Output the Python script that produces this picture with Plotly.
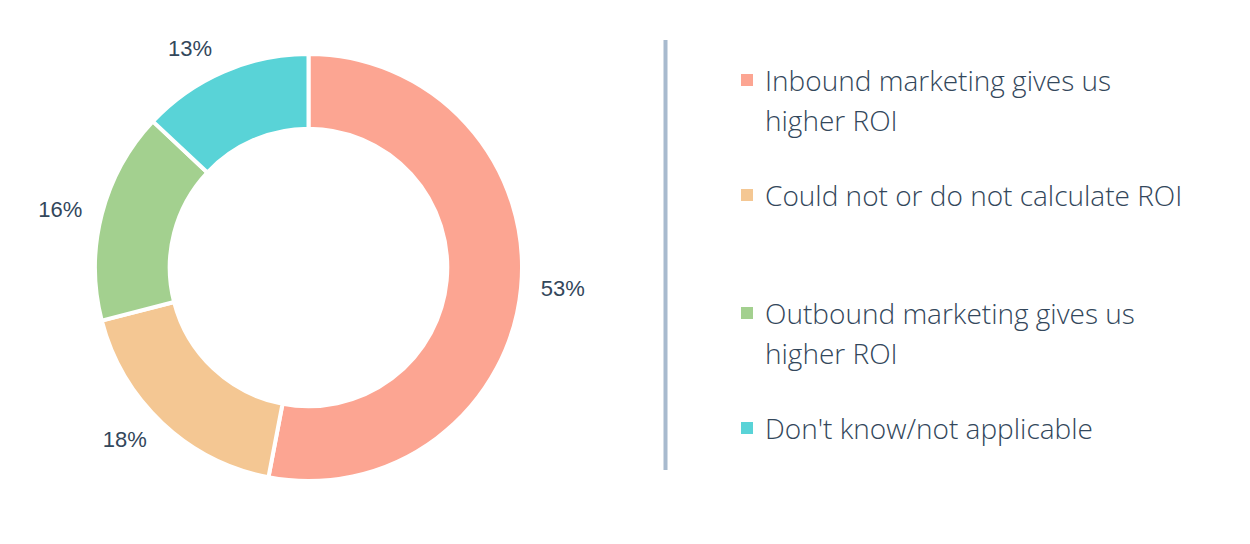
import plotly.graph_objects as go

categories = ["Inbound marketing gives us<br>higher ROI",
              "Could not or do not calculate ROI",
              "Outbound marketing gives us<br>higher ROI",
              "Don't know/not applicable"]
shares = [53, 18, 16, 13]
colors = ["#FCA592", "#F4C793", "#A3D08F", "#59D3D7"]
legend_rows = [80, 195, 313, 428]   # y (px) of each legend entry's first line

W, H = 1250, 544
OFF = 8          # page body margin pushes the plot 8px right/down
TEXT = "#33475B"


def px(x):
    return (x - OFF) / W


def py(y):
    return 1 - (y - OFF) / H


fig = go.Figure()

# the donut itself
fig.add_trace(go.Pie(
    values=shares, labels=categories, sort=False, direction="clockwise",
    hole=0.65, textinfo="none", hoverinfo="label+percent",
    marker=dict(colors=colors, line=dict(color="white", width=4)),
    domain=dict(x=[px(95), px(522)], y=[py(481), py(54)]),
    showlegend=False,
))

# transparent copy, slightly larger, only to carry the outside % labels
fig.add_trace(go.Pie(
    values=shares, labels=categories, sort=False, direction="clockwise",
    textinfo="percent", textposition="outside",
    textfont=dict(family="Liberation Sans, Arial", size=22, color=TEXT),
    marker=dict(colors=["rgba(0,0,0,0)"] * 4, line=dict(width=0)),
    hoverinfo="skip",
    domain=dict(x=[px(81.5), px(535.5)], y=[py(494), py(40)]),
    showlegend=False,
))

shapes = [dict(type="line", xref="paper", yref="paper",
               x0=px(665.5), x1=px(665.5), y0=py(470), y1=py(40),
               line=dict(color="#A8BACE", width=4))]
annotations = []
for name, col, y in zip(categories, colors, legend_rows):
    shapes.append(dict(type="rect", xref="paper", yref="paper",
                       x0=px(741), x1=px(753), y0=py(y + 6), y1=py(y - 6),
                       fillcolor=col, line=dict(width=0)))
    for i, line in enumerate(name.split("<br>")):
        annotations.append(dict(
            text=line, xref="paper", yref="paper",
            x=px(763), y=py(y + 40 * i), xanchor="left", yanchor="middle",
            showarrow=False,
            font=dict(family="Open Sans", size=28, weight=300, color=TEXT)))

fig.update_layout(
    width=W, height=H, margin=dict(l=0, r=0, t=0, b=0),
    paper_bgcolor="white", plot_bgcolor="white",
    shapes=shapes, annotations=annotations,
)

fig.write_html("out.html")
